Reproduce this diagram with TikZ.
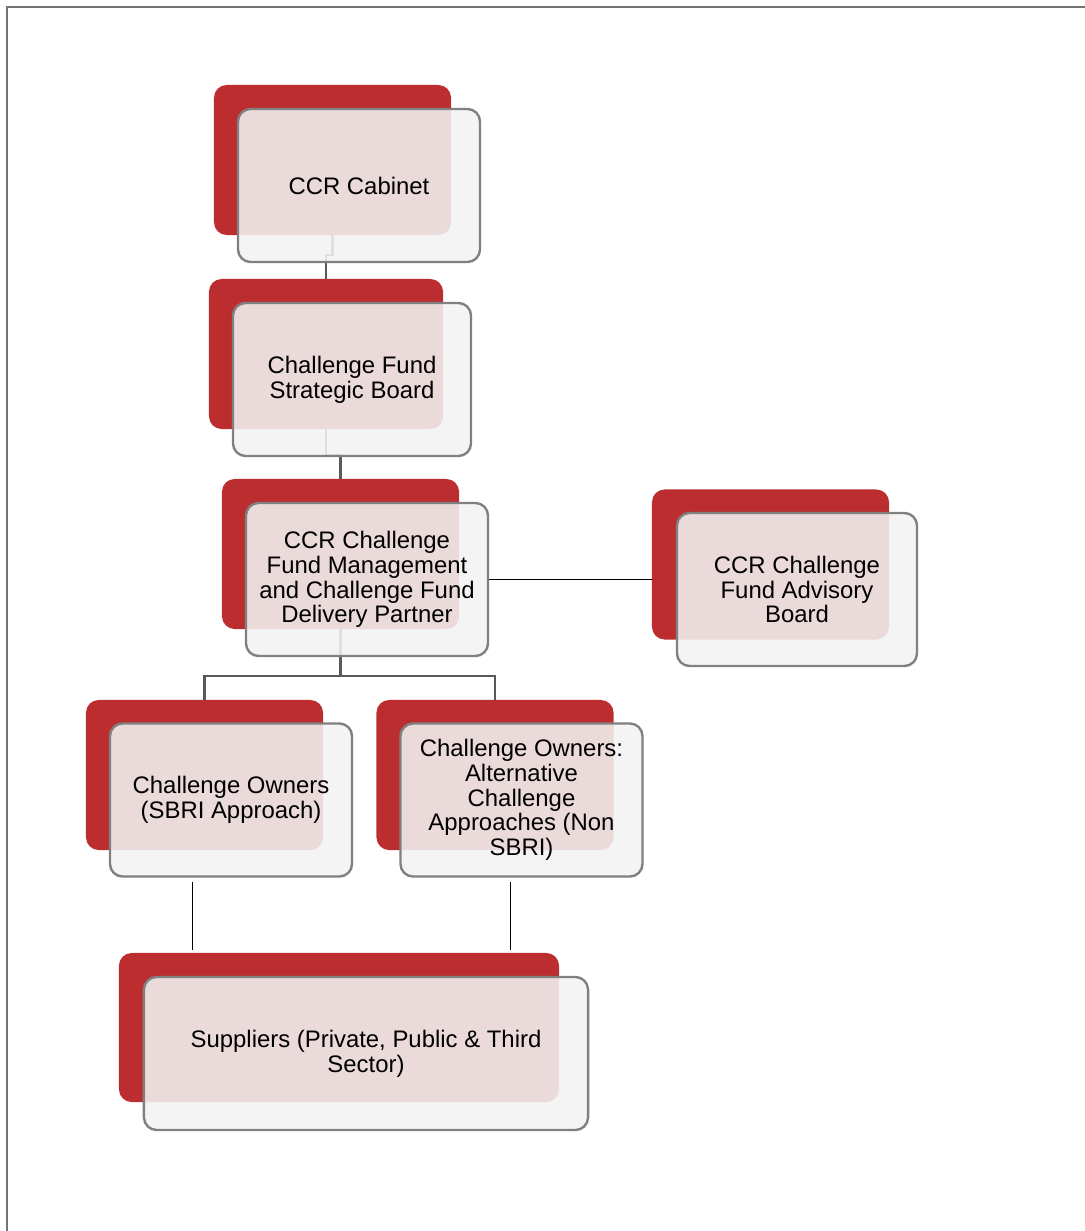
\documentclass[tikz,border=0pt]{standalone}
\usepackage{fontspec}
\setmainfont{Liberation Sans}
\usepackage{tikz}
\usetikzlibrary{calc}

\definecolor{ccrred}{HTML}{BC2D30}
\definecolor{cardfill}{HTML}{F2F2F2}
\definecolor{cardline}{HTML}{808080}
\definecolor{treeline}{HTML}{595959}

\begin{document}
\begin{tikzpicture}[x=0.025cm, y=-0.025cm,
    backcard/.style={rectangle, rounded corners=9pt, fill=ccrred, draw=none,
        minimum width=5.925cm, minimum height=3.75cm, inner sep=0pt},
    card/.style={rectangle, rounded corners=9pt, fill=cardfill, fill opacity=0.88,
        text opacity=1, draw=cardline, line width=1.7pt, align=center,
        minimum width=6.05cm, minimum height=3.825cm, inner sep=2pt,
        font=\fontsize{17pt}{17.6pt}\selectfont},
    tree/.style={draw=treeline, line width=1.6pt},
    link/.style={draw=black, line width=0.7pt}]
\useasboundingbox (0, 0) rectangle (1085, 1231);

\node[backcard] (cabinet-b)   at (332.5, 160)  {};
\node[backcard, minimum width=5.85cm] (strategic-b) at (326, 354) {};
\node[backcard] (mgmt-b)      at (340.5, 554)  {};
\node[backcard] (advisory-b)  at (770.5, 564.5) {};
\node[backcard] (sbri-b)      at (204.5, 775)  {};
\node[backcard] (alt-b)       at (495, 775)    {};
\node[backcard, minimum width=11cm, minimum height=3.725cm] (suppliers-b) at (339, 1027.5) {};

\draw[tree] (cabinet-b.south) -- ++(0, 20) -| (strategic-b.north);
\draw[tree] (strategic-b.south) -- ++(0, 26) -| (mgmt-b.north);
\draw[tree] (mgmt-b.south) -- ++(0, 47) coordinate (split);
\draw[tree] (split) -| (sbri-b.north);
\draw[tree] (split) -| (alt-b.north);

\node[card] (cabinet)   at (359, 185.5) {CCR Cabinet};
\node[card, minimum width=5.95cm] (strategic) at (352, 379.5) {Challenge Fund\\Strategic Board};
\node[card] (mgmt)      at (367, 579.5) {CCR Challenge\\Fund Management\\and Challenge Fund\\Delivery Partner};
\node[card, minimum width=6cm] (advisory) at (797, 589.5) {CCR Challenge\\Fund Advisory\\Board};
\node[card] (sbri)      at (231, 800) {Challenge Owners\\(SBRI Approach)};
\node[card] (alt)       at (521.5, 800) {Challenge Owners:\\Alternative\\Challenge\\Approaches (Non\\SBRI)};
\node[card, minimum width=11.1cm] (suppliers) at (366, 1053.5) {Suppliers (Private, Public \& Third\\Sector)};

\draw[link] (mgmt.east) -- (mgmt.east -| advisory-b.west);
\draw[link] (sbri.south) ++(-39, 4) coordinate (s1) -- ([yshift=2pt]s1 |- suppliers-b.north);
\draw[link] (alt.south) ++(-11.5, 4) coordinate (s2) -- ([yshift=2pt]s2 |- suppliers-b.north);

\draw[cardline!90!black, line width=2pt] (7, 1231) -- (7, 7) -- (1085, 7);
\end{tikzpicture}
\end{document}
